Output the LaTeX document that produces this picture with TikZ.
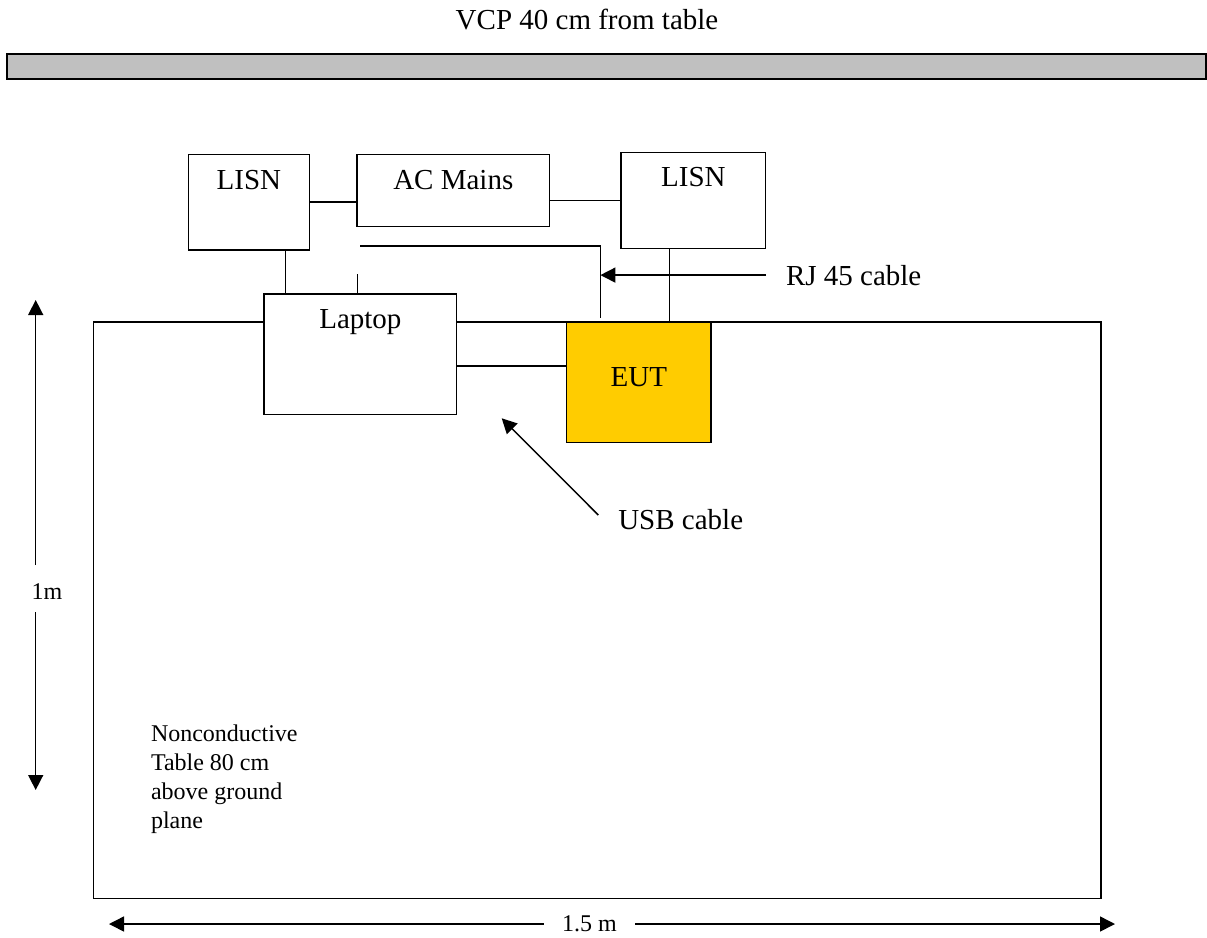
\documentclass[tikz,border=0pt]{standalone}
\usepackage{fontspec}
\setmainfont{Liberation Serif}
\usetikzlibrary{arrows.meta,calc}
\definecolor{eutyellow}{RGB}{255,204,0}
\definecolor{bargray}{RGB}{192,192,192}
\begin{document}
\begin{tikzpicture}[x=1pt,y=-1pt,
  line width=1.5pt,
  every node/.style={inner sep=0pt,outer sep=0pt},
  big/.style={font=\fontsize{29}{34}\selectfont},
  small/.style={font=\fontsize{24}{29}\selectfont},
  box/.style={draw,fill=white,line width=1.5pt,big,anchor=north west},
  tip/.style={-{Triangle[length=15pt,width=15pt]}},
]
\useasboundingbox (0,0) rectangle (1207,937);

% title and VCP bar
\node[big,anchor=base] (title) at (587,29.3) {VCP 40 cm from table};
\node[draw,fill=bargray,line width=2.2pt,anchor=north west,minimum width=1199pt,minimum height=25pt] (vcp) at (7,54) {};

% table
\node[draw,anchor=north west,minimum width=1007.5pt,minimum height=576.3pt] (table) at (93.3,322.2) {};

% boxes
\node[box,minimum width=120.7pt,text height=35pt,text depth=60.7pt] (lisn1) at (188.6,154.3) {LISN};
\node[box,minimum width=192.6pt,text height=35pt,text depth=37.4pt] (acm) at (357,154.3) {AC Mains};
\node[box,minimum width=144.7pt,text height=34pt,text depth=61.8pt] (lisn2) at (621,152.7) {LISN};
\node[box,minimum width=192.7pt,text height=34.3pt,text depth=86pt] (laptop) at (264,294) {Laptop};
\node[box,fill=eutyellow,minimum width=144.3pt,text height=64pt,text depth=56pt] (eut) at (566.7,322.7) {EUT};

% connectors
\draw (lisn1.east) -- (lisn1.east -| acm.west);
\draw (lisn2.west -| acm.east) -- (lisn2.west);
\coordinate (p1) at (285.4,0);
\draw (lisn1.south -| p1) -- (laptop.north -| p1);
\coordinate (st) at (357.5,274);
\draw (st) -- (st |- laptop.north);
\coordinate (rj0) at (360,246);
\coordinate (rj1) at (600.4,246);
\coordinate (rj2) at (600.4,318.3);
\draw (rj0) -- (rj1) -- (rj2);
\coordinate (p2) at (669.3,0);
\draw (lisn2.south -| p2) -- (eut.north -| p2);
\coordinate (p3) at (0,366);
\draw (laptop.east |- p3) -- (eut.west |- p3);

% labels with arrows
\node[big,anchor=base west] (rjl) at (786,285) {RJ 45 cable};
\draw[tip] ([xshift=-20pt]rjl.west) -- (rjl.west -| rj1);
\node[big,anchor=base west] (usbl) at (618.3,529.3) {USB cable};
\coordinate (usbt) at (598.3,515);
\coordinate (usbh) at (501.7,418.3);
\draw[tip] (usbt) -- (usbh);

% table note
\node[small,anchor=north west,align=left] (note) at (151,724.6) {Nonconductive\\Table 80 cm\\above ground\\plane};

% dimensions
\node[small] (m1) at (47,592) {1m};
\coordinate (va) at (35.7,565);
\coordinate (vtop) at (35.7,300);
\coordinate (vb) at (35.7,612);
\coordinate (vbot) at (35.7,790);
\draw[tip] (va) -- (vtop);
\draw[tip] (vb) -- (vbot);

\node[small,inner xsep=18.5pt] (m15) at (589.5,924) {1.5 m};
\coordinate (hl) at (109,924);
\coordinate (hr) at (1115,924);
\draw[tip] (m15.west) -- (hl);
\draw[tip] (m15.east) -- (hr);
\end{tikzpicture}
\end{document}
